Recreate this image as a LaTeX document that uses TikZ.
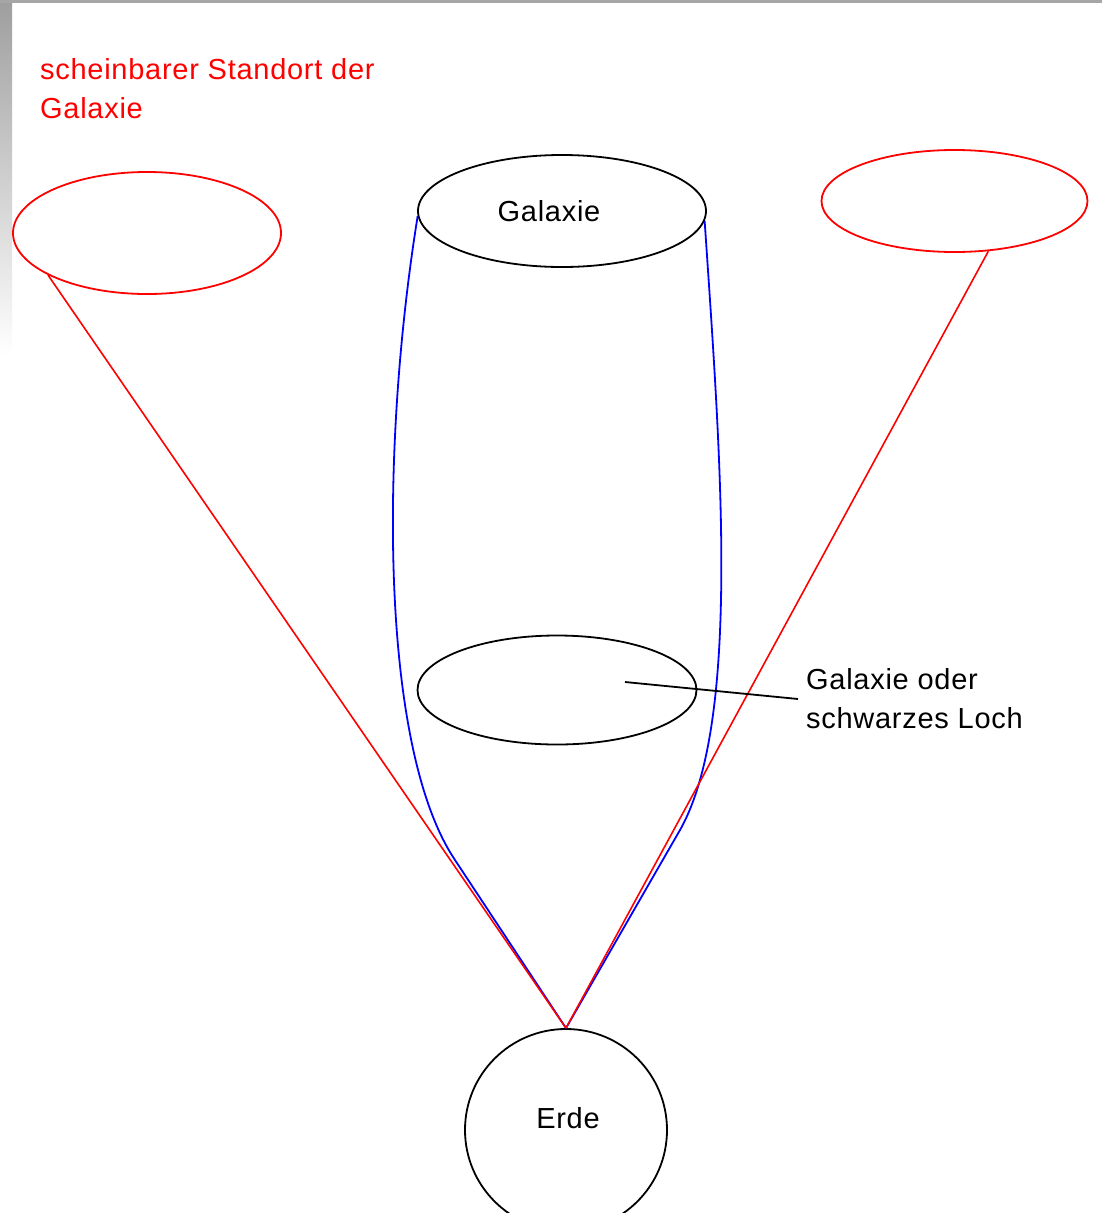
\documentclass[tikz,border=0pt]{standalone}
\usepackage{fontspec}
\setmainfont{Liberation Sans}[LetterSpace=2.5]
\usetikzlibrary{shapes.geometric}
\tikzset{
  ell/.style={ellipse, draw, line width=1.8pt, inner sep=0pt},
  redell/.style={ell, draw=red},
  blkell/.style={ell, draw=black},
  redline/.style={draw=red, line width=1.6pt},
  blueline/.style={draw=blue, line width=1.8pt},
  txt/.style={font=\fontsize{29}{39}\selectfont, inner sep=0pt, align=left}
}
\begin{document}
\begin{tikzpicture}[x=1pt,y=-1pt]
\useasboundingbox (0,0) rectangle (1102,1213);
\clip (0,0) rectangle (1102,1213);
\fill[white] (0,0) rectangle (1102,1213);
% window frame edges
\shade[top color=black!38, bottom color=white] (0,0) rectangle (12,355);
\fill[black!35] (0,0) rectangle (1102,3);

% text top left
\node[txt, text=red, anchor=north west] (schein) at (40,58) {scheinbarer Standort der\\Galaxie};

% ellipses
\node[redell, minimum width=268pt, minimum height=122pt] (lapp) at (147,233) {};
\node[redell, minimum width=266pt, minimum height=102pt] (rapp) at (954.5,201) {};
\node[blkell, minimum width=288pt, minimum height=112pt,
      label={[txt, xshift=-13pt]center:Galaxie}] (gal) at (562,211) {};
\node[blkell, minimum width=279pt, minimum height=109pt] (mid) at (557,690) {};
\node[circle, draw, line width=1.8pt, minimum size=202pt, inner sep=0pt,
      label={[txt, yshift=12pt, xshift=2pt]center:Erde}] (erde) at (566,1130) {};

% blue light paths
\draw[blueline] (gal.182) .. controls (380,450) and (380,748) .. (455,860) -- (erde.north);
\draw[blueline] (gal.356) .. controls (720,450) and (742,720) .. (680,830) -- (erde.north);

% red apparent lines
\draw[redline] (lapp.203) -- (erde.north);
\draw[redline] (rapp.304) -- (erde.north);

% pointer label
\coordinate (ptr) at (625,682);
\node[txt, anchor=west, inner sep=0pt] (lbl) at (806,699) {Galaxie oder\\schwarzes Loch};
\draw[line width=1.8pt] (ptr) -- ([xshift=-8pt]lbl.west);
\end{tikzpicture}
\end{document}
